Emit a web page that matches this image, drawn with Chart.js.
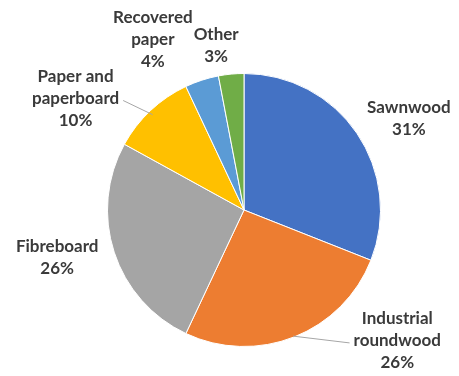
<!DOCTYPE html>
<html>
<head>
<meta charset="utf-8">
<script src="https://cdn.jsdelivr.net/npm/chart.js@4/dist/chart.umd.min.js"></script>
<style>
  html, body { margin: 0; padding: 0; background: #ffffff; }
  #wrap { width: 459px; height: 376px; position: relative; }
</style>
</head>
<body>
<div id="wrap"><canvas id="chart" width="459" height="376"></canvas></div>
<script>
// Wood product shares
const categories = ['Sawnwood', 'Industrial roundwood', 'Fibreboard', 'Paper and paperboard', 'Recovered paper', 'Other'];
const shares = [31, 26, 26, 10, 4, 3];
const labelLines = [
  ['Sawnwood', '31%'],
  ['Industrial', 'roundwood', '26%'],
  ['Fibreboard', '26%'],
  ['Paper and', 'paperboard', '10%'],
  ['Recovered', 'paper', '4%'],
  ['Other', '3%']
];
const sliceColors = ['#4472C4', '#ED7D31', '#A5A5A5', '#FFC000', '#5B9BD5', '#70AD47'];

// Label placement: offset of the text block centre from the slice's outer edge
// at its mid-angle, and whether a leader line is drawn (side: +1 text right, -1 left).
const labelOffsets = [
  { dx: 52, dy: -15, leader: 0 },
  { dx: 103, dy: 4, leader: -1 },
  { dx: -57, dy: 5, leader: 0 },
  { dx: -75, dy: -12, leader: 1 },
  { dx: -49, dy: -41, leader: 0 },
  { dx: -15, dy: -29, leader: 0 }
];

const FONT = 'bold 17px Lato, "Open Sans", sans-serif';
const LINE_H = 22;

const outsideLabels = {
  id: 'outsideLabels',
  afterDatasetsDraw(chart) {
    const ctx = chart.ctx;
    const meta = chart.getDatasetMeta(0);
    ctx.save();
    ctx.font = FONT;
    ctx.textAlign = 'center';
    ctx.textBaseline = 'middle';
    meta.data.forEach((arc, i) => {
      const p = arc.getProps(['x', 'y', 'startAngle', 'endAngle', 'outerRadius'], true);
      const mid = (p.startAngle + p.endAngle) / 2;
      const ex = p.x + Math.cos(mid) * p.outerRadius;
      const ey = p.y + Math.sin(mid) * p.outerRadius;
      const o = labelOffsets[i];
      const cx = ex + o.dx;
      const cy = ey + o.dy;
      const lines = labelLines[i];
      const top = cy - (lines.length - 1) * LINE_H / 2;
      if (o.leader) {
        const w = Math.max(...lines.map(t => ctx.measureText(t).width));
        const lx = cx + o.leader * (w / 2 + 4);
        ctx.strokeStyle = '#A6A6A6';
        ctx.lineWidth = 1;
        ctx.beginPath();
        ctx.moveTo(ex - Math.cos(mid) * 3, ey - Math.sin(mid) * 3 + 2);
        ctx.lineTo(lx, cy + 2);
        ctx.stroke();
      }
      ctx.fillStyle = '#3A3A3A';
      lines.forEach((t, k) => ctx.fillText(t, cx, top + k * LINE_H));
    });
    ctx.restore();
  }
};

new Chart(document.getElementById('chart'), {
  type: 'pie',
  data: {
    labels: categories,
    datasets: [{
      data: shares,
      backgroundColor: sliceColors,
      borderColor: '#ffffff',
      borderWidth: 1
    }]
  },
  options: {
    responsive: false,
    animation: false,
    layout: { padding: { top: 73, bottom: 29, left: 107, right: 78 } },
    plugins: {
      legend: { display: false },
      tooltip: { enabled: false }
    }
  },
  plugins: [outsideLabels]
});
</script>
</body>
</html>
